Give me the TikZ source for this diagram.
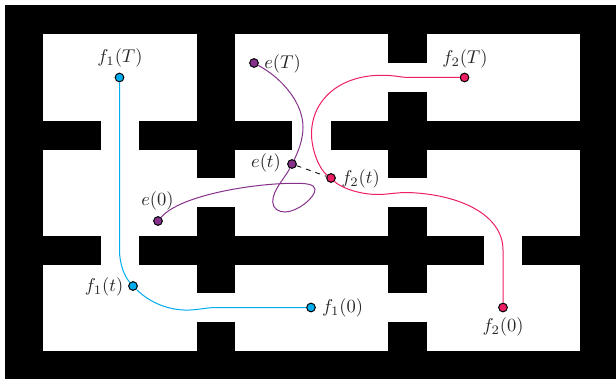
\documentclass[tikz,border=0pt]{standalone}
\usepackage{tikz}
\definecolor{fonecol}{RGB}{0,174,239}
\definecolor{ftwocol}{RGB}{237,30,100}
\definecolor{evecol}{RGB}{134,50,140}
\begin{document}
\begin{tikzpicture}[
  x=0.6pt, y=-0.6pt,
  every node/.style={align=center},
  wall/.style={fill=black, draw=none},
  agent/.style={circle, draw=black, line width=0.6pt, inner sep=0pt, minimum size=5.2pt},
  lbl/.style={scale=1.11, text=black!85},
  track/.style={line width=0.6pt},
]
\useasboundingbox (0,0) rectangle (616,379);
% outer walls and the rooms
\fill[wall] (4.5,5) rectangle (616,379);
\fill[white] (43.3,34.3) rectangle (580,351);
\foreach \xa/\ya/\xb/\yb in {
  197/34/235/178, 388/34/427/63, 388/92/427/178,
  43/121/101/150, 139/121/292/150, 331/121/580/150,
  43/236/101/265, 139/236/484/265, 522/236/580/265,
  197/207/235/293, 388/207/427/293,
  197/322/235/351, 388/322/427/351} {
  \fill[wall] (\xa,\ya) rectangle (\xb,\yb);
}
% players and labels
\foreach \name/\x/\y/\col/\lx/\ly/\txt in {
  fT/119.5/77.5/fonecol/120/58/{$f_1(T)$},
  ft/133/286/fonecol/104/287/{$f_1(t)$},
  fO/311/307.5/fonecol/342.5/308/{$f_1(0)$},
  gT/464.5/77.5/ftwocol/465/59/{$f_2(T)$},
  gt/331/178/ftwocol/360.5/179/{$f_2(t)$},
  gO/503/307.5/ftwocol/503/327/{$f_2(0)$},
  eT/254/63/evecol/282.5/63.5/{$e(T)$},
  et/292/164/evecol/266/163/{$e(t)$},
  eO/158/221/evecol/157.5/201/{$e(0)$}} {
  \node[agent, fill=\col] (\name) at (\x,\y) {};
  \node[lbl] (lbl\name) at (\lx,\ly) {\txt};
}
\draw[track, fonecol] (fT) -- (119.5,250) .. controls (119.5,265) and (125,277) .. (ft);
\draw[track, fonecol] (ft) .. controls (150,303) and (170,311) .. (190,310)
  .. controls (200,309.5) and (208,307.5) .. (216,307.5) -- (fO);
\draw[track, ftwocol] (gT) -- (407,77.5) .. controls (400,77) and (394,75.5) .. (385,75.3)
  .. controls (340,74) and (311,100) .. (311.5,135)
  .. controls (312,152) and (320,170) .. (gt);
\draw[track, ftwocol] (gt) .. controls (340,187) and (358,194.5) .. (378,194.5)
  .. controls (388,194.5) and (396,192.5) .. (407,192.5)
  .. controls (460,194) and (503,215) .. (503,250) -- (gO);
\draw[track, evecol] (eT) .. controls (285,80) and (303,105) .. (303,127)
  .. controls (303,140) and (298,152) .. (et);
\draw[track, evecol] (et) .. controls (285,178) and (272.5,190) .. (272.7,202)
  .. controls (273,209) and (279,212) .. (285,212)
  .. controls (297,212) and (315,198) .. (315,189.5)
  .. controls (315,184) and (305,183.3) .. (296,183.3)
  .. controls (255,183) and (180,195) .. (eO);
\draw[dashed, line width=0.5pt] (et) -- (gt);
\end{tikzpicture}
\end{document}
